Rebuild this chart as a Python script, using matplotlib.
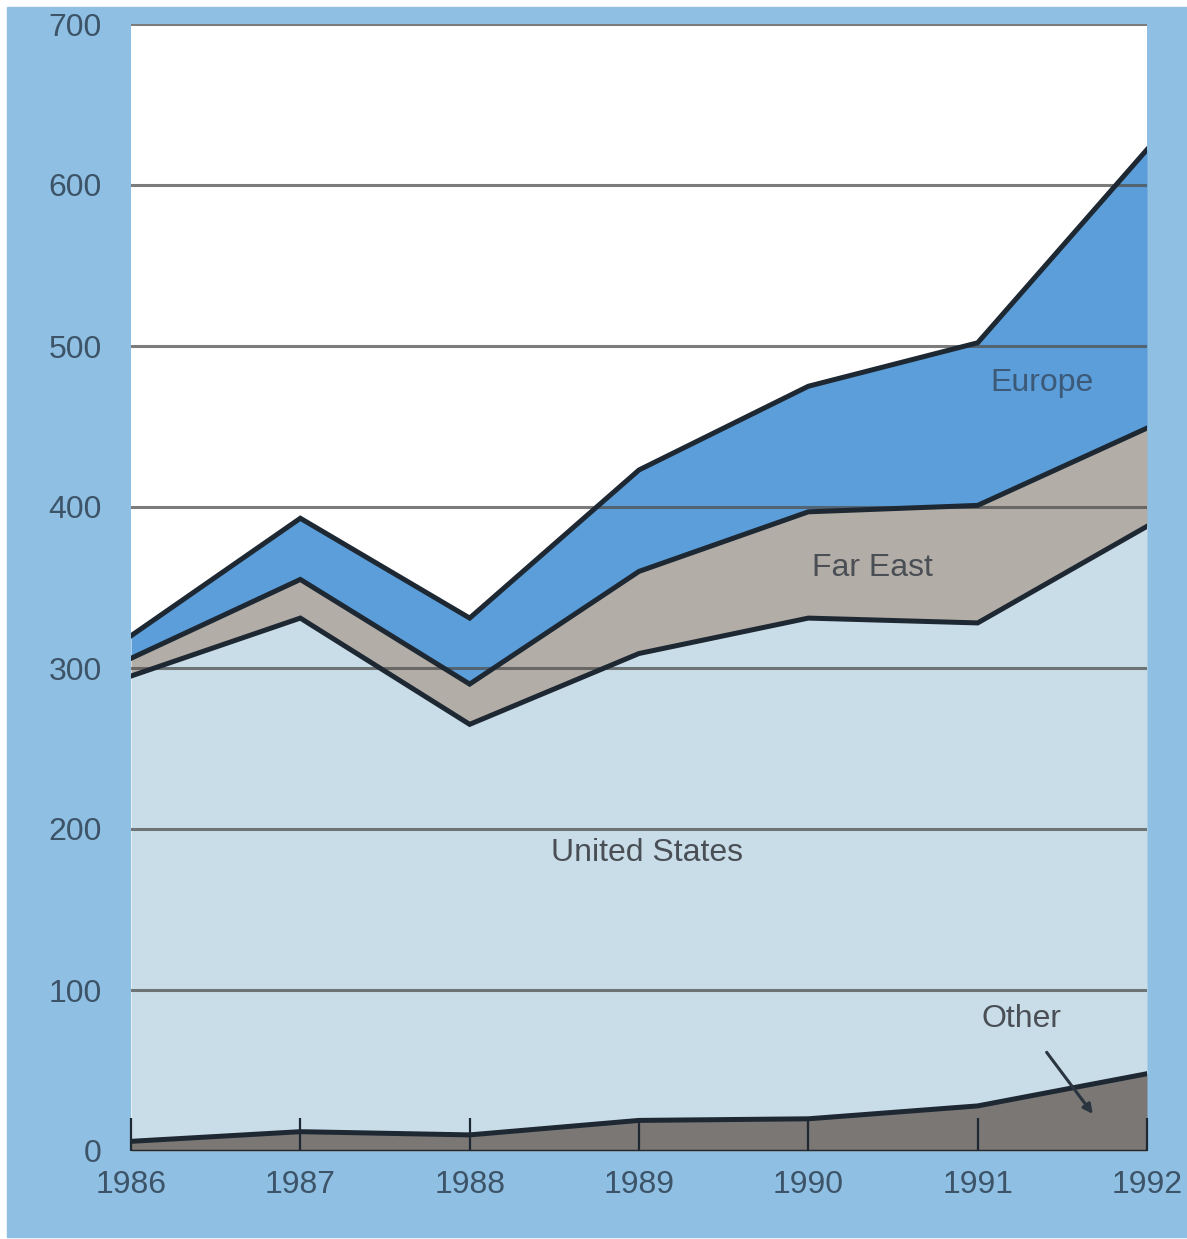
import matplotlib.pyplot as plt
from matplotlib.patches import Rectangle
import numpy as np

plt.rcParams['font.family'] = ['Liberation Sans', 'DejaVu Sans']

# ---------------------- DATA ---------------------------------------------
years = [1986, 1987, 1988, 1989, 1990, 1991, 1992]
other = [6, 12, 10, 19, 20, 28, 48]
united_states = [289, 319, 255, 290, 311, 300, 340]
far_east = [11, 24, 25, 51, 66, 73, 61]
europe = [14, 38, 41, 63, 78, 101, 173]

y_ticks = [0, 100, 200, 300, 400, 500, 600, 700]

# ---------------------- COLOURS ------------------------
BORDER = '#8fc0e3'
C_OTHER = '#7b7775'
C_US = '#c9dde9'
C_FE = '#b3ada7'
C_EU = '#5b9ed9'
OUTLINE = '#1e2833'
TEXT = '#4a4f55'
TICKTXT = '#3d5368'

fig = plt.figure(figsize=(11.87, 12.39), dpi=100, facecolor='white')
fig.patches.append(Rectangle((7 / 1187, 2 / 1239), 1, 1230 / 1239,
                             transform=fig.transFigure, color=BORDER, zorder=-10))

ax = fig.add_axes([131 / 1187, 1 - 1151 / 1239, (1147 - 131) / 1187, (1151 - 24) / 1239])
ax.set_facecolor('white')
ax.set_zorder(5)

x = np.array(years)
c0 = np.zeros(len(x))
c1 = c0 + np.array(other)
c2 = c1 + np.array(united_states)
c3 = c2 + np.array(far_east)
c4 = c3 + np.array(europe)

ax.fill_between(x, c0, c1, color=C_OTHER, lw=0, zorder=1)
ax.fill_between(x, c1, c2, color=C_US, lw=0, zorder=1)
ax.fill_between(x, c2, c3, color=C_FE, lw=0, zorder=1)
ax.fill_between(x, c3, c4, color=C_EU, lw=0, zorder=1)

# gridlines on top of the fills
for t in y_ticks[1:]:
    ax.axhline(t, color='#505050', lw=2.2, alpha=0.75, zorder=2)

# layer outlines
for c in [c1, c2, c3, c4]:
    ax.plot(x, c, color=OUTLINE, lw=3.6, solid_joinstyle='miter', zorder=3)
ax.plot(x, c0, color=OUTLINE, lw=2.5, zorder=3)

ax.set_xlim(1986, 1992)
ax.set_ylim(0, 700)
ax.set_yticks(y_ticks)
ax.set_xticks(years)
ax.set_xticklabels([str(y) for y in years])
for s in ax.spines.values():
    s.set_visible(False)
ax.tick_params(axis='y', length=0, pad=21, labelsize=23, labelcolor=TICKTXT)
ax.tick_params(axis='x', direction='in', length=24, width=1.6, color=OUTLINE,
               pad=14, labelsize=23, labelcolor=TICKTXT)
for tk in ax.xaxis.get_major_ticks():
    tk.tick1line.set_zorder(4)

# series labels
ax.text(1991.38, 477, 'Europe', ha='center', va='center', fontsize=23, color='#3c5a78', zorder=5)
ax.text(1990.38, 362, 'Far East', ha='center', va='center', fontsize=23, color=TEXT, zorder=5)
ax.text(1989.05, 185, 'United States', ha='center', va='center', fontsize=23, color=TEXT, zorder=5)
ax.annotate('Other', xy=(1991.68, 23), xytext=(1991.26, 82),
            ha='center', va='center', fontsize=23, color=TEXT, zorder=5,
            arrowprops=dict(arrowstyle='-|>', color='#2a3540', lw=2.2,
                            mutation_scale=14, shrinkA=14, shrinkB=0))

plt.savefig('out.png', dpi=100, facecolor=fig.get_facecolor())
